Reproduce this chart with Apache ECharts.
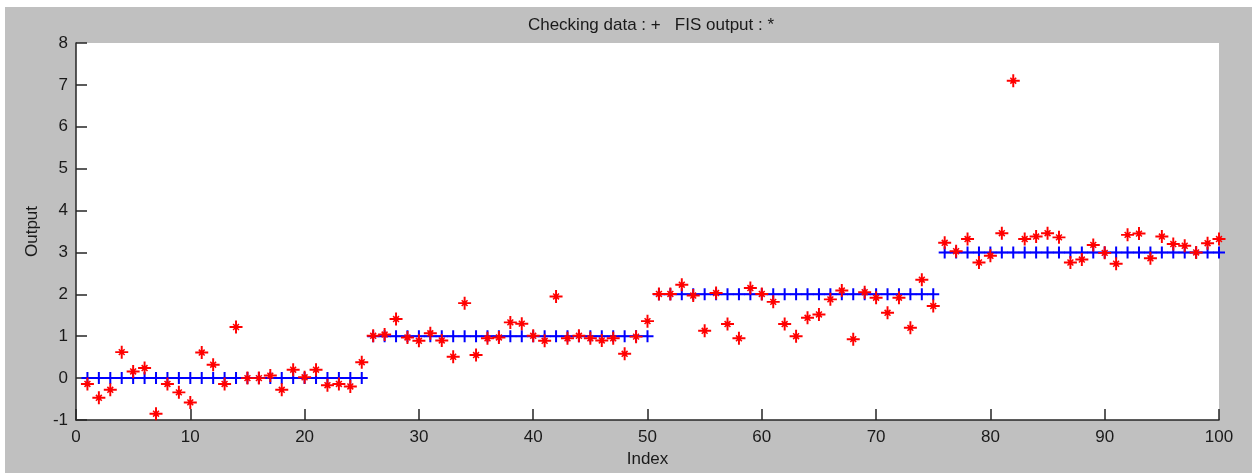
<!DOCTYPE html>
<html>
<head>
<meta charset="utf-8">
<script src="https://cdn.jsdelivr.net/npm/echarts@6/dist/echarts.min.js"></script>
<style>
  html, body { margin: 0; padding: 0; background: #fff; }
  #chart { width: 1260px; height: 473px; }
</style>
</head>
<body>
<div id="chart"></div>
<script>
// 数据：样本序号、检查数据（+）、FIS 输出（*）
var indexes = [];
for (var k = 1; k <= 100; k++) indexes.push(k);

var checkingData = [
  0, 0, 0, 0, 0, 0, 0, 0, 0, 0, 0, 0, 0, 0, 0, 0, 0, 0, 0, 0, 0, 0, 0, 0, 0,
  1, 1, 1, 1, 1, 1, 1, 1, 1, 1, 1, 1, 1, 1, 1, 1, 1, 1, 1, 1, 1, 1, 1, 1, 1,
  2, 2, 2, 2, 2, 2, 2, 2, 2, 2, 2, 2, 2, 2, 2, 2, 2, 2, 2, 2, 2, 2, 2, 2, 2,
  3, 3, 3, 3, 3, 3, 3, 3, 3, 3, 3, 3, 3, 3, 3, 3, 3, 3, 3, 3, 3, 3, 3, 3, 3
];

var fisOutput = [
  -0.14, -0.47, -0.28, 0.62, 0.16, 0.24, -0.85, -0.14, -0.34, -0.58,
  0.61, 0.32, -0.14, 1.22, 0.0, 0.0, 0.06, -0.28, 0.2, 0.02,
  0.2, -0.17, -0.14, -0.2, 0.38, 1.01, 1.04, 1.41, 0.97, 0.89,
  1.07, 0.9, 0.51, 1.79, 0.55, 0.95, 0.97, 1.33, 1.3, 1.01,
  0.89, 1.95, 0.95, 1.01, 0.95, 0.9, 0.95, 0.58, 0.99, 1.36,
  2.01, 2.01, 2.23, 1.97, 1.13, 2.03, 1.29, 0.95, 2.15, 2.01,
  1.82, 1.29, 1.0, 1.44, 1.52, 1.88, 2.09, 0.93, 2.05, 1.92,
  1.56, 1.92, 1.2, 2.35, 1.72, 3.23, 3.03, 3.32, 2.76, 2.92,
  3.46, 7.1, 3.32, 3.38, 3.46, 3.36, 2.76, 2.83, 3.18, 2.99,
  2.73, 3.42, 3.45, 2.86, 3.38, 3.2, 3.16, 3.0, 3.22, 3.32
];

var xTicks = [0, 10, 20, 30, 40, 50, 60, 70, 80, 90, 100];
var yTicks = [-1, 0, 1, 2, 3, 4, 5, 6, 7, 8];

// 标记形状
var plusPath = 'path://M5 0H7V12H5Z M0 5H12V7H0Z';
var starPath = 'path://M5.1 0H6.9V12H5.1Z M0 5.1H12V6.9H0Z M3.8 2.8L9.2 8.2L8.2 9.2L2.8 3.8Z M8.2 2.8L9.2 3.8L3.8 9.2L2.8 8.2Z M4 4H8V8H4Z';

// 检查数据按数值分段（段与段之间不连线）
var checkSeries = [];
var seg = [];
for (var i = 0; i < indexes.length; i++) {
  if (i > 0 && checkingData[i] !== checkingData[i - 1]) {
    checkSeries.push(seg);
    seg = [];
  }
  seg.push([indexes[i], checkingData[i]]);
}
checkSeries.push(seg);

var series = checkSeries.map(function (d) {
  return {
    type: 'line',
    data: d,
    symbol: plusPath,
    symbolSize: 12,
    showAllSymbol: true,
    lineStyle: { color: '#0000ff', width: 1.5 },
    itemStyle: { color: '#0000ff' },
    animation: false,
    z: 2
  };
});
series.push({
  type: 'scatter',
  data: indexes.map(function (x, i) { return [x, fisOutput[i]]; }),
  symbol: starPath,
  symbolSize: 13,
  itemStyle: { color: '#ff0000', opacity: 1 },
  animation: false,
  z: 3
});

var fontName = 'Liberation Sans, Arial, sans-serif';
var myChart = echarts.init(document.getElementById('chart'));
myChart.setOption({
  backgroundColor: '#ffffff',
  animation: false,
  textStyle: { fontFamily: fontName },
  graphic: [
    {
      type: 'rect',
      z: -100,
      shape: { x: 5, y: 7, width: 1247, height: 466 },
      style: { fill: '#c0c0c0' },
      silent: true
    }
  ],
  title: {
    text: 'Checking data : +   FIS output : *',
    left: 646,
    top: 12,
    textAlign: 'center',
    textStyle: { fontSize: 17, fontWeight: 'normal', color: '#1a1a1a', fontFamily: fontName }
  },
  grid: {
    left: 76,
    right: 41,
    top: 43,
    bottom: 47,
    show: true,
    backgroundColor: '#ffffff',
    borderWidth: 0,
    containLabel: false
  },
  xAxis: {
    type: 'value',
    min: xTicks[0],
    max: xTicks[xTicks.length - 1],
    interval: 10,
    name: 'Index',
    nameLocation: 'middle',
    nameGap: 31,
    nameTextStyle: { fontSize: 17, color: '#1a1a1a' },
    axisLine: { onZero: false, lineStyle: { color: '#262626', width: 1.5 } },
    axisTick: { inside: true, length: 11, lineStyle: { color: '#262626', width: 1.5 } },
    axisLabel: { fontSize: 17, color: '#1a1a1a', margin: 9 },
    splitLine: { show: false }
  },
  yAxis: {
    type: 'value',
    min: yTicks[0],
    max: yTicks[yTicks.length - 1],
    interval: 1,
    name: 'Output',
    nameLocation: 'middle',
    nameGap: 35,
    nameTextStyle: { fontSize: 17, color: '#1a1a1a' },
    axisLine: { onZero: false, lineStyle: { color: '#262626', width: 1.5 } },
    axisTick: { inside: true, length: 11, lineStyle: { color: '#262626', width: 1.5 } },
    axisLabel: { fontSize: 17, color: '#1a1a1a', margin: 8 },
    splitLine: { show: false }
  },
  series: series
});
</script>
</body>
</html>
